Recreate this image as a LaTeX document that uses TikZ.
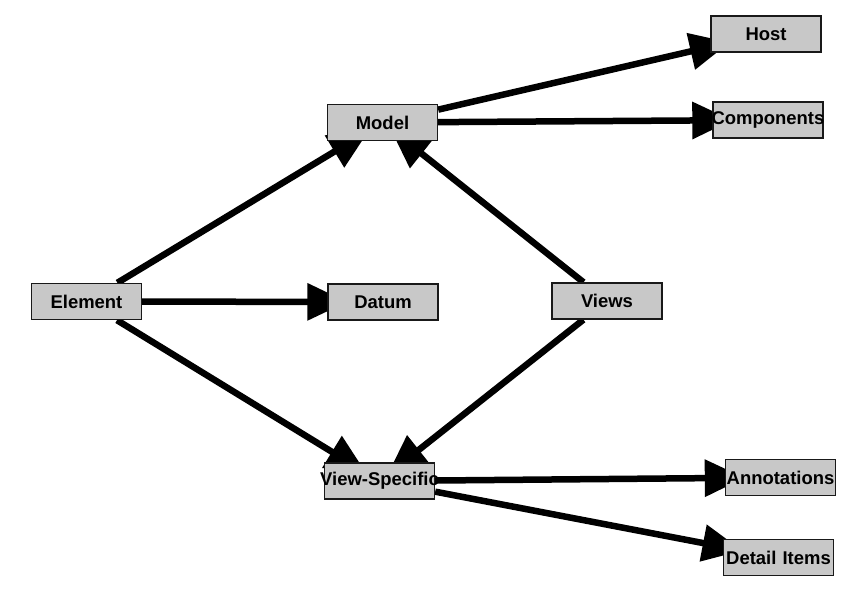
\documentclass[tikz,border=0pt]{standalone}
\usepackage{fontspec}
\setmainfont{Liberation Sans}
\usepackage{xcolor}
\usepackage{tikz}
\usetikzlibrary{shapes,arrows.meta,positioning,backgrounds}

\definecolor{boxgray}{RGB}{200,200,200}

\begin{document}
\begin{tikzpicture}[
    box/.style={rectangle, draw=black!90, line width=0.8pt, fill=boxgray, text width=2.2cm, minimum height=0.72cm, inner sep=0pt, align=center, font=\bfseries\fontsize{10.5}{12}\selectfont},
    arrow/.style={-{Triangle[length=0.8cm,width=0.72cm]}, line width=0.13cm, shorten >=-0.4cm}
]
    \useasboundingbox (0,0) rectangle (17.24,12.18);

    \node[box] (element) at (1.73,6.15) {Element};
    \node[box] (model) at (7.65,9.73) {Model};
    \node[box] (datum) at (7.66,6.14) {Datum};
    \node[box] (views) at (12.14,6.16) {Views};
    \node[box] (viewspec) at (7.59,2.56) {\makebox[2.2cm]{View-Specific}};

    \node[box] (host) at (15.32,11.50) {Host};
    \node[box] (comp) at (15.36,9.78) {\makebox[2.2cm]{Components}};
    \node[box] (annot) at (15.61,2.63) {Annotations};
    \node[box] (detail) at (15.57,1.03) {Detail Items};

    \begin{pgfonlayer}{background}
    \draw[arrow] (element) -- (model);
    \draw[arrow] (element) -- (datum);
    \draw[arrow] (element) -- (viewspec);
    \draw[arrow] (views) -- (model);
    \draw[arrow] (views) -- (viewspec);
    \draw[arrow] (model) -- (host);
    \draw[arrow] (model) -- (comp);
    \draw[arrow] (viewspec) -- (annot);
    \draw[arrow] (viewspec) -- (detail);
    \end{pgfonlayer}
\end{tikzpicture}
\end{document}
